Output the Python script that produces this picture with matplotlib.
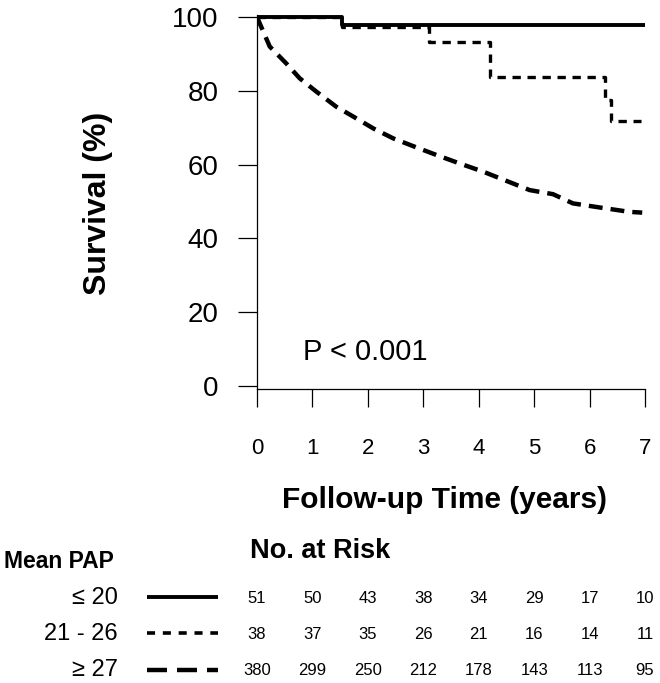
import matplotlib
matplotlib.use("Agg")
import matplotlib.pyplot as plt
from matplotlib.lines import Line2D
import matplotlib.transforms as mtransforms

plt.rcParams['font.family'] = ['Liberation Sans', 'DejaVu Sans']
plt.rcParams['lines.scale_dashes'] = False

# ---- data ----
t_le20 = [0, 1.53, 7.0]
s_le20 = [100, 97.8, 97.8]

t_21_26 = [0, 1.53, 3.10, 4.20, 6.28, 6.38, 6.93]
s_21_26 = [100, 97.4, 93.3, 83.8, 77.5, 71.9, 71.9]

t_ge27 = [0, 0.23, 0.53, 0.77, 1.07, 1.43, 1.74, 2.10, 2.46, 2.82, 3.24,
          3.66, 4.08, 4.50, 4.92, 5.34, 5.70, 6.18, 6.72, 6.95]
s_ge27 = [100, 92.0, 87.4, 83.4, 79.8, 75.7, 73.0, 69.8, 67.1, 65.0, 62.6,
          60.3, 58.1, 55.6, 53.1, 52.0, 49.5, 48.4, 47.2, 47.0]

group_labels = ["\u2264 20", "21 - 26", "\u2265 27"]
risk_times = [0, 1, 2, 3, 4, 5, 6, 7]
risk_le20 = [51, 50, 43, 38, 34, 29, 17, 10]
risk_21_26 = [38, 37, 35, 26, 21, 16, 14, 11]
risk_ge27 = [380, 299, 250, 212, 178, 143, 113, 95]

x_ticks = [0, 1, 2, 3, 4, 5, 6, 7]
y_ticks = [0, 20, 40, 60, 80, 100]

W, H = 660, 683
fx = lambda x: x / W
fy = lambda y: 1 - y / H

fig = plt.figure(figsize=(W / 100, H / 100), dpi=100)
ax = fig.add_axes([fx(257), fy(389), (645 - 257) / W, (389 - 15.2) / H])

solid_style = dict(color='black', lw=2.8, solid_capstyle='butt')
dot_style = dict(color='black', lw=2.4, dashes=(6.0, 4.8))
dash_style = dict(color='black', lw=3.2, dashes=(10, 5.8))

ax.plot(t_ge27, s_ge27, **dash_style)
ax.plot(t_21_26, s_21_26, drawstyle='steps-post', **dot_style)
ax.plot(t_le20, s_le20, drawstyle='steps-post', **solid_style)

ax.set_xlim(0, 7)
ax.set_ylim(-0.8, 100.5)
for s in ['top', 'right']:
    ax.spines[s].set_visible(False)
for s in ['left', 'bottom']:
    ax.spines[s].set_linewidth(0.9)

ax.set_xticks(x_ticks)
ax.set_yticks(y_ticks)
ax.tick_params(axis='x', length=13, width=0.9, pad=22.5, labelsize=16)
ax.tick_params(axis='y', length=13.7, width=0.9, pad=14, labelsize=20)

ax.text(0.83, 7.05, "P < 0.001", fontsize=21, ha='left', va='baseline')

fig.text(fx(98), fy(203), "Survival (%)", rotation=90, ha='center', va='center',
         fontsize=23, fontweight='bold')
fig.text(fx(445), fy(508), "Follow-up Time (years)", ha='center', va='baseline',
         fontsize=21.5, fontweight='bold')

# ---- risk table ----
fig.text(fx(4), fy(568), "Mean PAP", ha='left', va='baseline', fontsize=16.5,
         fontweight='bold')
fig.text(fx(250), fy(558), "No. at Risk", ha='left', va='baseline', fontsize=19.5,
         fontweight='bold')

row_base = [604, 640, 676]
num_base = [603, 639, 675]
line_y = [597, 633, 670]
legend_styles = [dict(color='black', lw=2.8, solid_capstyle='butt'),
                 dict(color='black', lw=2.6, dashes=(5.8, 5.6)),
                 dict(color='black', lw=3.2, dashes=(14.4, 7.2))]
risk_rows = [risk_le20, risk_21_26, risk_ge27]

trans = mtransforms.blended_transform_factory(ax.transData, fig.transFigure)
for i in range(3):
    fig.text(fx(118), fy(row_base[i]), group_labels[i], ha='right', va='baseline',
             fontsize=17)
    fig.add_artist(Line2D([fx(147), fx(218)], [fy(line_y[i])] * 2,
                          transform=fig.transFigure, **legend_styles[i]))
    for t, n in zip(risk_times, risk_rows[i]):
        ax.text(t, fy(num_base[i]), str(n), transform=trans, ha='center',
                va='baseline', fontsize=12, clip_on=False)

fig.savefig("out.png", dpi=100)
